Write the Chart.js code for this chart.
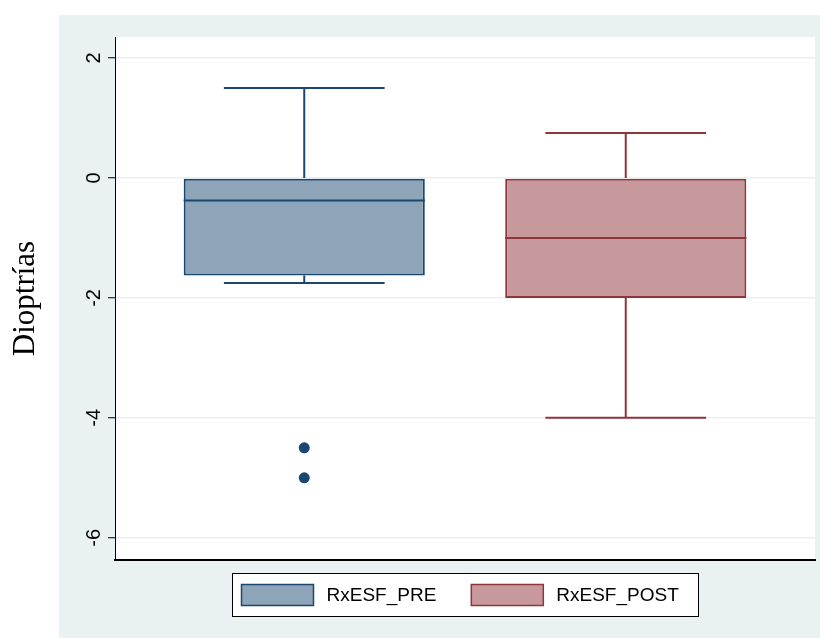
<!DOCTYPE html>
<html>
<head>
<meta charset="utf-8">
<script src="https://cdn.jsdelivr.net/npm/chart.js@4"></script>
<style>
  body { margin: 0; background: #fff; }
  #wrap { width: 820px; height: 638px; }
</style>
</head>
<body>
<div id="wrap"><canvas id="box" width="820" height="638"></canvas></div>
<script>
// box plot data (dioptres)
const groups = ['RxESF_PRE', 'RxESF_POST'];
const q1 = [-1.625, -2];
const q3 = [0, 0];
const medians = [-0.375, -1];
const whiskerLow = [-1.75, -4];
const whiskerHigh = [1.5, 0.75];
const outliers = [[-4.5, -5], []];
const yTicks = [-6, -4, -2, 0, 2];

const fills = ['#8ea5b9', '#c8999c'];
const lines = ['#1a476f', '#90353b'];

// page background + white plot region
const bgPlugin = {
  id: 'bg',
  beforeDraw(chart) {
    const { ctx, width, height, chartArea } = chart;
    ctx.save();
    ctx.fillStyle = '#fff';
    ctx.fillRect(0, 0, width, height);
    ctx.fillStyle = '#e9f1f3';
    ctx.fillRect(59, 15, width - 59, height - 15);
    ctx.fillStyle = '#fff';
    ctx.fillRect(chartArea.left, chartArea.top, chartArea.right - chartArea.left, chartArea.bottom - chartArea.top);
    ctx.restore();
  }
};

// whiskers, caps, medians and outliers on top of the floating bars
const boxPlugin = {
  id: 'boxParts',
  afterDatasetsDraw(chart) {
    const ctx = chart.ctx;
    const yS = chart.scales.y;
    chart.data.datasets.forEach((ds, i) => {
      const bar = chart.getDatasetMeta(i).data[0];
      const x = bar.x;
      const half = bar.width / 2;
      const cap = bar.width / 3;
      const py = v => yS.getPixelForValue(v);
      ctx.save();
      ctx.strokeStyle = lines[i];
      ctx.lineWidth = 2;
      ctx.beginPath();
      ctx.moveTo(x, py(q3[i])); ctx.lineTo(x, py(whiskerHigh[i]));
      ctx.moveTo(x, py(q1[i])); ctx.lineTo(x, py(whiskerLow[i]));
      ctx.moveTo(x - cap, py(whiskerHigh[i])); ctx.lineTo(x + cap, py(whiskerHigh[i]));
      ctx.moveTo(x - cap, py(whiskerLow[i])); ctx.lineTo(x + cap, py(whiskerLow[i]));
      ctx.moveTo(x - half, py(medians[i])); ctx.lineTo(x + half, py(medians[i]));
      ctx.stroke();
      ctx.fillStyle = lines[i];
      outliers[i].forEach(v => {
        ctx.beginPath();
        ctx.arc(x, py(v), 5.5, 0, Math.PI * 2);
        ctx.fill();
      });
      ctx.restore();
    });
  }
};

// boxed legend under the plot
const legendPlugin = {
  id: 'boxLegend',
  afterDraw(chart) {
    const { ctx, chartArea } = chart;
    const w = 466, h = 43;
    const left = Math.round((chartArea.left + chartArea.right) / 2 - w / 2) + 0.5;
    const top = chartArea.bottom + 13.5;
    ctx.save();
    ctx.fillStyle = '#fff';
    ctx.fillRect(left, top, w, h);
    ctx.strokeStyle = '#000';
    ctx.lineWidth = 1;
    ctx.strokeRect(left, top, w, h);
    ctx.font = '19px "Liberation Sans", Arial, sans-serif';
    ctx.textBaseline = 'middle';
    let x = left + 9;
    const midY = top + h / 2;
    chart.data.datasets.forEach((ds, i) => {
      ctx.fillStyle = ds.backgroundColor;
      ctx.fillRect(x, midY - 10.5, 72, 21);
      ctx.strokeStyle = ds.borderColor;
      ctx.lineWidth = 1.5;
      ctx.strokeRect(x, midY - 10.5, 72, 21);
      x += 72 + 13;
      ctx.fillStyle = '#000';
      ctx.fillText(ds.label, x, midY + 1);
      x += ctx.measureText(ds.label).width + 35;
    });
    ctx.restore();
  }
};

new Chart(document.getElementById('box'), {
  type: 'bar',
  data: {
    labels: [''],
    datasets: groups.map((g, i) => ({
      label: g,
      data: [[q1[i], q3[i]]],
      backgroundColor: fills[i],
      borderColor: lines[i],
      borderWidth: 2,
      borderSkipped: false,
      categoryPercentage: 0.9186,
      barPercentage: 0.75
    }))
  },
  options: {
    responsive: false,
    animation: false,
    devicePixelRatio: 1,
    layout: { padding: { top: 37, right: 5, bottom: 78, left: 0 } },
    plugins: {
      legend: { display: false },
      tooltip: { enabled: false }
    },
    scales: {
      x: {
        afterFit: s => { s.height = 0; },
        grid: { display: false, drawTicks: false },
        border: { color: '#000', width: 2 },
        ticks: { display: false }
      },
      y: {
        min: -6.37,
        max: 2.35,
        afterBuildTicks: s => { s.ticks = yTicks.map(v => ({ value: v })); },
        afterFit: s => { s.width = 115; },
        border: { color: '#000', width: 1 },
        grid: { color: '#e8f0f2', lineWidth: 1.5, tickColor: '#000', tickLength: 7, tickWidth: 1 },
        ticks: {
          minRotation: 90, maxRotation: 90, crossAlign: 'center', padding: 5,
          color: '#000', font: { family: '"Liberation Sans", Arial, sans-serif', size: 20 }
        },
        title: {
          display: true, text: 'Dioptrías', color: '#000',
          font: { family: '"Liberation Serif", "Times New Roman", serif', size: 31 },
          padding: { top: 7, bottom: 0 }
        }
      }
    }
  },
  plugins: [bgPlugin, boxPlugin, legendPlugin]
});
</script>
</body>
</html>
